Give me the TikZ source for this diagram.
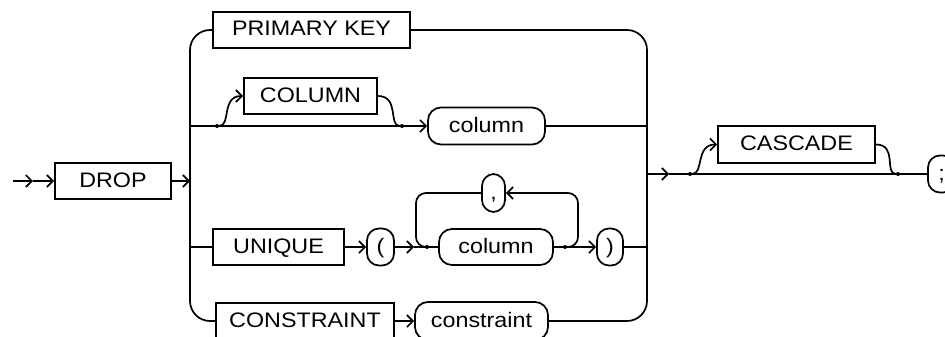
\documentclass[tikz,border=0pt]{standalone}
\usepackage{fontspec}
\usepackage{tikz}
\usetikzlibrary{arrows.meta}
\newfontfamily\diagfont{Liberation Sans}[FakeStretch=1.11]

\begin{document}
\begin{tikzpicture}[x=1pt, y=-1pt,
  kw/.style={draw, line width=1.7pt, inner sep=0pt, minimum height=36pt,
    text height=15pt, text depth=3pt,
    font=\diagfont\fontsize{21}{21}\selectfont},
  ref/.style={kw, rounded corners=13pt, minimum height=37pt},
  sym/.style={kw, rounded corners=12pt, minimum height=37pt},
  line/.style={line width=1.7pt},
  arr/.style={line, -{Straight Barb[length=6pt, width=12pt]}},
  dot/.style={circle, fill, inner sep=0pt, minimum size=4pt}
]
\clip (0,0) rectangle (945,337);

% keywords and references
\node[kw, minimum width=116pt] (drop) at (113,181) {DROP};
\node[kw, minimum width=197pt] (pk) at (311.5,30) {PRIMARY KEY};
\node[kw, minimum width=133pt] (colkw) at (310.5,96) {COLUMN};
\node[ref, minimum width=117pt] (colref) at (486.5,126) {column};
\node[kw, minimum width=131pt] (unique) at (278.5,247) {UNIQUE};
\node[sym, minimum width=27pt] (lpar) at (380.5,247) {(};
\node[sym, minimum width=23pt, minimum height=38pt] (comma) at (493.5,193) {,};
\node[ref, minimum width=114pt, minimum height=36pt] (col2) at (496,247) {column};
\node[sym, minimum width=26pt] (rpar) at (610,247) {)};
\node[kw, minimum width=178pt] (cons) at (305,321) {CONSTRAINT};
\node[ref, minimum width=133pt, minimum height=38pt] (consref) at (481.5,321) {constraint};
\node[kw, minimum width=157pt, minimum height=37pt] (cascade) at (796.5,144.5) {CASCADE};
\node[sym, minimum width=27pt] (semi) at (941.5,174) {;};

% rails and junctions
\coordinate (entry) at (13,181);
\coordinate (entryarr) at (33,181);
\coordinate (lrail) at (190,181);
\coordinate (lcol) at (190,126);
\coordinate (luni) at (190,247);
\coordinate (rrail) at (647,174);
\coordinate (rcol) at (647,126);
\coordinate (runi) at (647,247);
\coordinate (uniarr) at (414,247);
\coordinate (exitarr) at (669,174);
\node[dot] (colin) at (217,126) {};
\node[dot] (colout) at (402,126) {};
\node[dot] (loopin) at (427,247) {};
\node[dot] (loopout) at (565,247) {};
\node[dot] (casin) at (690,174) {};
\node[dot] (casout) at (898,174) {};

% connectors
\draw[arr] (entry) -- (entryarr);
\draw[arr] (entryarr) -- (drop);
\draw[arr] (drop) -- (lrail);
\draw[line, rounded corners=20pt] (pk.west) -| (lrail);
\draw[line, rounded corners=20pt] (cons.west) -| (lrail);
\draw[arr] (lcol) -- (colref);
\draw[arr] (colin) .. controls +(14,0) and +(-22,0) .. (colkw.west);
\draw[line] (colkw.east) .. controls +(22,0) and +(-14,0) .. (colout);
\draw[line] (luni) -- (unique);
\draw[arr] (unique) -- (lpar);
\draw[arr] (lpar) -- (uniarr);
\draw[line] (uniarr) -- (col2);
\draw[arr] (col2) -- (rpar);
\draw[line, rounded corners=10pt] (loopin) -- ++(-11,0) |- (comma);
\draw[arr, rounded corners=10pt] (loopout) -- ++(13,0) |- (comma);
\draw[line] (rpar) -- (runi);
\draw[arr] (cons) -- (consref);
\draw[line] (colref) -- (rcol);
\draw[line, rounded corners=20pt] (pk.east) -| (rrail);
\draw[line, rounded corners=20pt] (consref.east) -| (rrail);
\draw[arr] (rrail) -- (exitarr);
\draw[line] (exitarr) -- (semi);
\draw[arr] (casin) .. controls +(14,0) and +(-22,0) .. (cascade.west);
\draw[line] (cascade.east) .. controls +(22,0) and +(-14,0) .. (casout);
\end{tikzpicture}
\end{document}
